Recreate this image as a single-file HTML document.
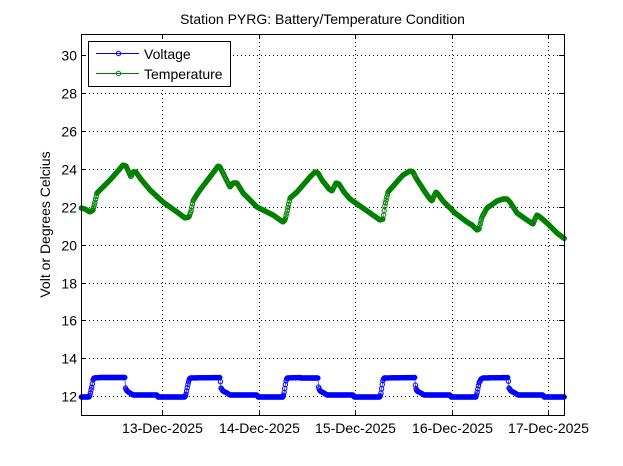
<!DOCTYPE html>
<html><head><meta charset="utf-8"><style>
html,body{margin:0;padding:0;background:#fff;}
svg{display:block;}
text{font-family:"Liberation Sans",Arial,sans-serif;font-size:14px;fill:#000;}
</style></head><body>
<svg id="s" width="623" height="466" viewBox="0 0 623 466" xmlns="http://www.w3.org/2000/svg">
<rect width="623" height="466" fill="#fff"/>
<g stroke="#000" stroke-width="1" stroke-dasharray="1 3" fill="none">
<line x1="81" y1="396.5" x2="564" y2="396.5"/>
<line x1="81" y1="358.5" x2="564" y2="358.5"/>
<line x1="81" y1="320.5" x2="564" y2="320.5"/>
<line x1="81" y1="283.5" x2="564" y2="283.5"/>
<line x1="81" y1="245.5" x2="564" y2="245.5"/>
<line x1="81" y1="207.5" x2="564" y2="207.5"/>
<line x1="81" y1="169.5" x2="564" y2="169.5"/>
<line x1="81" y1="131.5" x2="564" y2="131.5"/>
<line x1="81" y1="93.5" x2="564" y2="93.5"/>
<line x1="81" y1="55.5" x2="564" y2="55.5"/>
<line x1="162.5" y1="34" x2="162.5" y2="415"/>
<line x1="259.5" y1="34" x2="259.5" y2="415"/>
<line x1="355.5" y1="34" x2="355.5" y2="415"/>
<line x1="452.5" y1="34" x2="452.5" y2="415"/>
<line x1="548.5" y1="34" x2="548.5" y2="415"/>
</g>
<g stroke="#000" stroke-width="1" fill="none">
<path d="M81 396.5h5M81 358.5h5M81 320.5h5M81 283.5h5M81 245.5h5M81 207.5h5M81 169.5h5M81 131.5h5M81 93.5h5M81 55.5h5"/>
<path d="M564 396.5h-5M564 358.5h-5M564 320.5h-5M564 283.5h-5M564 245.5h-5M564 207.5h-5M564 169.5h-5M564 131.5h-5M564 93.5h-5M564 55.5h-5"/>
<path d="M162.5 415v-5M259.5 415v-5M355.5 415v-5M452.5 415v-5M548.5 415v-5"/>
<path d="M162.5 34v5M259.5 34v5M355.5 34v5M452.5 34v5M548.5 34v5"/>
</g>
<g id="series">
<polyline id="pv" fill="none" stroke="#0000ff" stroke-width="5" points="81,397 89,397 90,395 91,390 92,386 93,380 94,378 100,377.5 125,377.5 125.5,388 127,391 130,393 133,395 157,395 158,397 185,397 186,394 187,389 188,384 189,380 190,378 220,377.5 221,388 223,391 227,393 230,395 257,395 258,397 283,397 284,393 285,387 286,381 287,378 300,377.5 301,378 318,378 318.5,387 320,391 324,393 327,395 353,395 354,397 380,397 381,393 382,386 383,380 384,378 415,377.5 415.5,387 417,391 421,393 424,395 450,395 451,397 476,397 477,393 478,388 479,383 481,379 483,378 508,377.5 509,388 511,391 515,393 518,395 543,395 544,397 565,397"/>
<polyline id="pt" fill="none" stroke="#008000" stroke-width="5" points="81,208 85,209 90,212 93,210 95,202 97,193 100,190 110,180 118,171 123,165 126,166 131,177 133,172 136,172 140,178 150,190 163,202 177,212 185,218 189,217 191,211 193,201 196,196 200,190 213,173 218,166 220,167 223,173 230,187 233,183 237,183 243,193 250,200 257,207 273,215 283,222 285,220 287,212 290,198 297,192 310,177 315,172 318,173 322,180 329,189 332,191 336,183 339,184 344,192 350,199 360,206 370,213 380,220 383,219 385,205 388,192 395,184 403,175 410,171 413,172 416,178 425,192 430,199 432,201 434,196 436,192 438,194 443,201 450,208 455,213 467,222 472,225 477,230 479,229 482,217 487,208 497,201 503,199 507,199 510,202 517,213 527,220 533,224 535,219 537,215 540,217 547,223 557,233 561,236 565,239"/>
</g>
<rect x="81.5" y="34.5" width="483" height="381" fill="none" stroke="#000" stroke-width="1"/>
<rect x="88.5" y="41.5" width="142" height="45" fill="#fff" stroke="#000" stroke-width="1"/>
<line x1="96" y1="53.5" x2="139" y2="53.5" stroke="#0000ff" stroke-width="1"/>
<circle cx="118.5" cy="53.5" r="2.2" fill="none" stroke="#0000ff" stroke-width="1"/>
<line x1="96" y1="73.5" x2="139" y2="73.5" stroke="#008000" stroke-width="1"/>
<circle cx="118.5" cy="73.5" r="2.2" fill="none" stroke="#008000" stroke-width="1"/>
<text x="144" y="59">Voltage</text>
<text x="144" y="79">Temperature</text>
<text x="322.5" y="24" text-anchor="middle">Station PYRG: Battery/Temperature Condition</text>
<g text-anchor="end">
<text x="77" y="401.5">12</text>
<text x="77" y="363.5">14</text>
<text x="77" y="325.5">16</text>
<text x="77" y="288.5">18</text>
<text x="77" y="250.5">20</text>
<text x="77" y="212.5">22</text>
<text x="77" y="174.5">24</text>
<text x="77" y="136.5">26</text>
<text x="77" y="98.5">28</text>
<text x="77" y="60.5">30</text>
</g>
<g text-anchor="middle">
<text x="162.5" y="433">13-Dec-2025</text>
<text x="259.5" y="433">14-Dec-2025</text>
<text x="355.5" y="433">15-Dec-2025</text>
<text x="452.5" y="433">16-Dec-2025</text>
<text x="548.5" y="433">17-Dec-2025</text>
</g>
<text transform="translate(50,224.5) rotate(-90)" text-anchor="middle">Volt or Degrees Celcius</text>
</svg>
<script>
(function(){
var NS="http://www.w3.org/2000/svg";
function parse(el){return el.getAttribute("points").trim().split(/\s+/).map(function(p){var a=p.split(",");return [parseFloat(a[0]),parseFloat(a[1])];});}
function interp(P,x){for(var i=0;i<P.length-1;i++){if(x<=P[i+1][0]){var t=(x-P[i][0])/(P[i+1][0]-P[i][0]);return P[i][1]+t*(P[i+1][1]-P[i][1]);}}return P[P.length-1][1];}
function draw(id,color){
var el=document.getElementById(id);var P=parse(el);
var g=document.createElementNS(NS,"g");g.setAttribute("fill","none");g.setAttribute("stroke",color);g.setAttribute("stroke-width","1");
var pts=[];
for(var x=81.3;x<=564.8;x+=0.65){var y=interp(P,x);pts.push(x.toFixed(2)+","+y.toFixed(2));
var c=document.createElementNS(NS,"circle");c.setAttribute("cx",x.toFixed(2));c.setAttribute("cy",y.toFixed(2));c.setAttribute("r","2.2");g.appendChild(c);}
el.setAttribute("points",pts.join(" "));el.setAttribute("stroke-width","0.6");
el.parentNode.appendChild(g);
}
draw("pv","#0000ff");draw("pt","#008000");
})();
</script>
</body></html>
